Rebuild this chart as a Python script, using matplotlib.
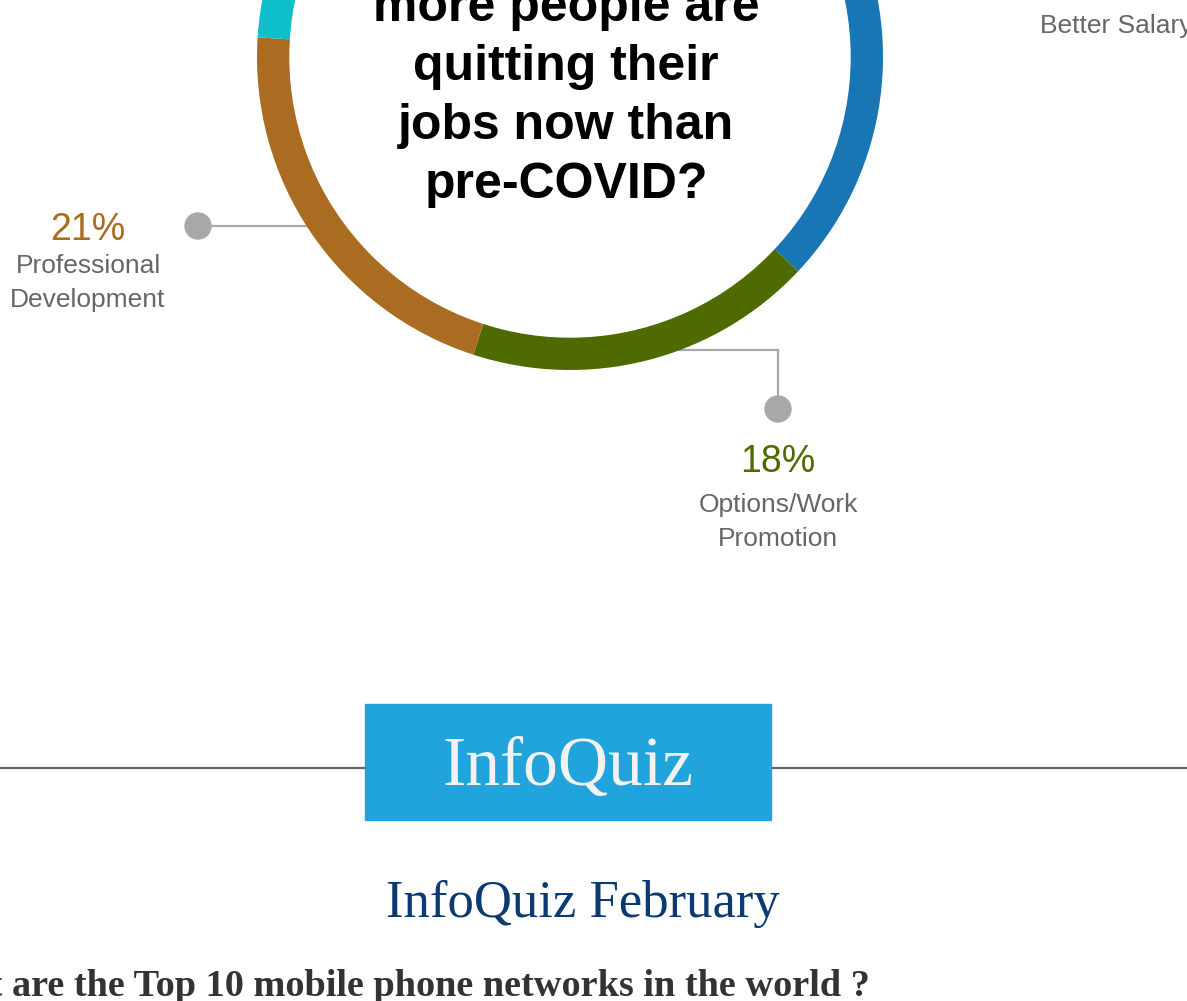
import matplotlib
matplotlib.use("Agg")
import matplotlib.pyplot as plt
from matplotlib.patches import Rectangle, Circle

# ---- data ----
categories = ["Better Salary", "Options/Work Promotion", "Professional Development", "Other"]
values = [37, 18, 21, 24]
colors = ["#1776b3", "#4f6b00", "#a96c20", "#0fbfca"]
pct_labels = ["37%", "18%", "21%", "24%"]
question_lines = ["more people are", "quitting their", "jobs now than", "pre-COVID?"]
quiz_badge = "InfoQuiz"
quiz_title = "InfoQuiz February"
quiz_question = "What are the Top 10 mobile phone networks in the world ?"

W, H = 1187, 1001
fig = plt.figure(figsize=(W / 100, H / 100), dpi=100)
fig.patch.set_facecolor("white")
ax = fig.add_axes([0, 0, 1, 1])


def Y(y):
    return H - y


SANS = ["Liberation Sans", "DejaVu Sans"]
SERIF = ["Liberation Serif", "DejaVu Serif"]

cx, cy, R, ring = 570, 57, 313, 33

# connector lines (behind the ring)
line_c = "#a8a8a8"
ax.plot([198, 330], [Y(226), Y(226)], color=line_c, lw=1.6, zorder=1, solid_capstyle="butt")
ax.plot([778, 778, 660], [Y(409), Y(350), Y(350)], color=line_c, lw=1.6, zorder=1,
        solid_joinstyle="miter")
ax.add_patch(Circle((198, Y(226)), 13, color=line_c, zorder=3))
ax.add_patch(Circle((778, Y(409)), 13, color=line_c, zorder=3))

# donut
wedges, _ = ax.pie(values, colors=colors, startangle=90, counterclock=False,
                   radius=R, center=(cx, Y(cy)),
                   wedgeprops=dict(width=ring, linewidth=0, zorder=2))
for w in wedges:
    w.set_zorder(2)
ax.add_patch(Circle((cx, Y(cy)), R - ring, color="white", zorder=2.5))

# center question
baselines = [21, 80, 139, 198]
for txt, b in zip(question_lines, baselines):
    ax.text(566, Y(b), txt, ha="center", va="baseline", fontsize=36,
            fontweight="bold", color="black", family=SANS, zorder=4)

# labels
gray_txt = "#666666"
# Professional Development
ax.text(88, Y(240), pct_labels[2], ha="center", va="baseline", fontsize=27,
        color=colors[2], family=SANS)
ax.text(88, Y(273), "Professional", ha="center", va="baseline", fontsize=19,
        color=gray_txt, family=SANS)
ax.text(88, Y(307), "Development", ha="center", va="baseline", fontsize=19,
        color=gray_txt, family=SANS)
# Options/Work Promotion
ax.text(778, Y(472), pct_labels[1], ha="center", va="baseline", fontsize=27,
        color=colors[1], family=SANS)
ax.text(778, Y(512), "Options/Work", ha="center", va="baseline", fontsize=19,
        color=gray_txt, family=SANS)
ax.text(778, Y(546), "Promotion", ha="center", va="baseline", fontsize=19,
        color=gray_txt, family=SANS)
# Better Salary (partially visible)
ax.text(1040, Y(33), categories[0], ha="left", va="baseline", fontsize=19,
        color=gray_txt, family=SANS)

# InfoQuiz section
ax.plot([0, W], [Y(768), Y(768)], color="#666666", lw=1.6, zorder=1)
ax.add_patch(Rectangle((365, Y(820)), 406, 116, color="#21a3db", zorder=2))
ax.text(568, Y(785), quiz_badge, ha="center", va="baseline", fontsize=50,
        color="#f2f2f2", family=SERIF, zorder=3)
ax.text(583, Y(917), quiz_title, ha="center", va="baseline", fontsize=38,
        color="#0b3a72", family=SERIF)
ax.text(870, Y(996), quiz_question, ha="right", va="baseline", fontsize=27.5,
        fontweight="bold", color="#333333", family=SERIF)

ax.set_xlim(0, W)
ax.set_ylim(0, H)
ax.set_aspect("auto")
ax.axis("off")

fig.savefig("out.png", dpi=100, facecolor="white")
